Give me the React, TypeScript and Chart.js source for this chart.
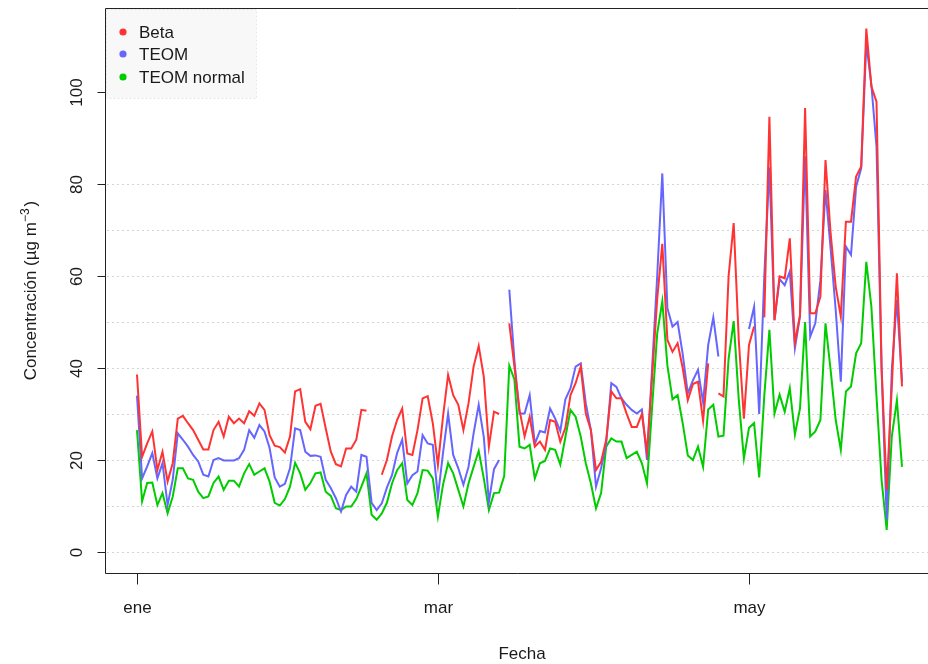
import React, { useEffect, useRef } from "react";
import { Chart, registerables } from "chart.js";

Chart.register(...registerables);

// Day index 0 = 1 January
const beta: (number | null)[] = [
  38.6, 20.7, 23.6, 26.2, 17.8, 21.8, 15.3, 19.3, 29, 29.6,
  28, 26.5, 24.4, 22.3, 22.3, 26.5, 28.3, 25.1, 29.4, 28,
  29, 28, 30.6, 29.6, 32.3, 30.9, 25.4, 23.1, 22.8, 21.6,
  25.1, 34.9, 35.4, 28.3, 26.7, 31.8, 32.2, 26.9, 21.8, 19.1,
  18.6, 22.5, 22.5, 24.4, 30.9, 30.7, null, null, 16.8, 20,
  25.1, 28.7, 31.2, 21.4, 21.1, 26.5, 33.4, 33.9, 28, 18.9,
  29.4, 38.5, 34.1, 32, 26.5, 32.3, 40.3, 44.8, 38.1, 22.9,
  30.5, 30, null, 49.7, 40.3, 30.9, 25.1, 29.4, 22.9, 24,
  22.2, 28.7, 28.3, 24, 27, 34.1, 36.7, 40.3, 30.1, 26.5,
  17.8, 19.6, 24.4, 34.9, 33.4, 33.4, 30.1, 27.2, 27.2, 30,
  21.8, 38, 55, 67, 46.1, 43.5, 45.4, 40, 33, 36.5,
  37, 28.5, 41, null, 34.5, 33.8, 60, 71.5, 46, 29,
  45, 49, null, 51, 94.6, 50.4, 59.9, 59.5, 68.2, 45.5,
  51.5, 96.5, 51.9, 51.9, 55.5, 85.2, 69.3, 57.7, 51.2, 71.8,
  71.8, 81.6, 83.8, 113.8, 101.2, 97.9, 40, 13.5, 35.9, 60.6,
  36,
];

const teom: (number | null)[] = [
  34, 16, 18.6, 21.5, 16, 19.3, 10.2, 15.7, 25.8, 24.4,
  22.9, 21.1, 19.7, 16.8, 16.4, 20, 20.4, 19.9, 19.9, 19.9,
  20.4, 22.2, 26.5, 24.8, 27.6, 26.2, 22.6, 16.2, 14.2, 14.8,
  18.2, 26.9, 26.5, 21.8, 20.9, 21, 20.7, 15.7, 13.9, 11.7,
  8.8, 12.4, 14.2, 13.1, 21.1, 20.7, 10.7, 9.1, 10.6, 14,
  16.7, 21.5, 24.4, 14.9, 16.7, 17.5, 25.4, 23.6, 23.3, 12,
  21.5, 30.1, 21.1, 18.2, 14.6, 18.5, 25.8, 32, 25, 10.9,
  18, 20, null, 57, 41.7, 30.1, 30.1, 34.1, 23.5, 26.3,
  26, 31.2, 29, 26.3, 33.2, 35.6, 40.3, 41, 32.3, 26.5,
  14.2, 18.2, 23.6, 36.7, 35.9, 33.4, 32, 30.9, 30.1, 31,
  20, 40, 60, 82.3, 53, 49, 50, 43, 34.5, 37.3,
  39.6, 32.5, 45, 51, 42.5, null, null, null, null, null,
  48.5, 53.3, 30, 60, 83.6, 50.4, 59.3, 58, 61, 44.3,
  51.2, 86, 46.8, 49.7, 59.1, 78.7, 66, 52.6, 37, 66.4,
  64.6, 79.4, 83.4, 110.6, 101.5, 88.1, 39.6, 7, 39.6, 54.8,
  37,
];

const teomNormal: (number | null)[] = [
  26.5, 11, 15, 15.1, 10.2, 12.8, 8.4, 12, 18.2, 18.2,
  16, 15.7, 13.1, 11.7, 12.1, 15, 16.4, 13.5, 15.5, 15.5,
  14.2, 17.1, 19.1, 16.8, 17.5, 18.2, 15.3, 10.7, 10.1, 11.5,
  14.2, 19.4, 17.1, 13.5, 15, 17.1, 17.3, 13.1, 12.2, 9.5,
  9.1, 9.9, 9.9, 11.5, 14.2, 17.1, 8.1, 7, 8.4, 10.7,
  14.9, 17.8, 19.3, 11.3, 10.2, 12.8, 17.8, 17.7, 16, 7.7,
  14.6, 19.3, 17.1, 13.5, 9.9, 14.9, 18.5, 22, 16, 9.1,
  12.8, 12.9, 16.5, 40.5, 37.5, 22.9, 22.5, 23.3, 16, 19.3,
  19.8, 22.5, 22.2, 19, 25, 30.9, 29.4, 25.1, 19.3, 14.9,
  9.5, 12.8, 22.9, 24.7, 24, 24, 20.4, 21.1, 21.8, 19.3,
  14.9, 31.5, 47.5, 54.5, 40.5, 33.2, 34.1, 28, 21, 20,
  22.9, 18.5, 31, 32, 25.1, 25.3, 42, 50.2, 33, 20.3,
  27, 28, 16.2, 34, 48.3, 30.1, 34.2, 30.5, 35.6, 25.5,
  31.2, 50, 25.1, 26.2, 28.7, 49.7, 39.6, 28.7, 22.2, 34.9,
  36, 43.2, 45.4, 63.1, 53.3, 33.8, 15.6, 4.8, 25.1, 33,
  18.5,
];

const seriesNames = ["Beta", "TEOM", "TEOM normal"];
const seriesColors = ["#ff3333", "#6666ff", "#00cc00"];

const xTickDays = [0, 59, 120];
const xTickLabels = ["ene", "mar", "may"];
const yTickValues = [0, 20, 40, 60, 80, 100];
const gridValues = [0, 10, 20, 30, 40, 50, 60, 70, 80];

const xTitle = "Fecha";
const yTitleMain = "Concentración (µg m";
const yTitleSup = "−3";
const yTitleEnd = ")";

const FONT = '"Liberation Sans", Arial, sans-serif';

const toPoints = (arr: (number | null)[]) => arr.map((v, i) => ({ x: i, y: v }));

const rPlugin = {
  id: "rStyle",
  beforeDatasetsDraw(chart: any) {
    const { ctx, chartArea, scales } = chart;
    const ys = scales.y;
    ctx.save();
    ctx.strokeStyle = "#d4d4d4";
    ctx.lineWidth = 1;
    ctx.setLineDash([2, 3]);
    for (const g of gridValues) {
      const py = Math.round(ys.getPixelForValue(g)) + 0.5;
      ctx.beginPath();
      ctx.moveTo(chartArea.left + 2, py);
      ctx.lineTo(chartArea.right, py);
      ctx.stroke();
    }
    ctx.restore();
  },
  afterDatasetsDraw(chart: any) {
    const { ctx, chartArea, scales } = chart;
    const xs = scales.x;
    const ys = scales.y;
    const L = chartArea.left + 0.5;
    const T = chartArea.top + 0.5;
    const B = chartArea.bottom + 0.5;
    const R = chartArea.right + 5;
    ctx.save();
    ctx.strokeStyle = "#222222";
    ctx.lineWidth = 1;
    ctx.setLineDash([]);
    ctx.beginPath();
    ctx.moveTo(R, T);
    ctx.lineTo(L, T);
    ctx.lineTo(L, B);
    ctx.lineTo(R, B);
    ctx.stroke();

    ctx.fillStyle = "#1a1a1a";
    ctx.font = `17px ${FONT}`;
    // y ticks
    for (const v of yTickValues) {
      const py = Math.round(ys.getPixelForValue(v)) + 0.5;
      ctx.beginPath();
      ctx.moveTo(L - 8, py);
      ctx.lineTo(L, py);
      ctx.stroke();
      ctx.save();
      ctx.translate(82, py);
      ctx.rotate(-Math.PI / 2);
      ctx.textAlign = "center";
      ctx.textBaseline = "alphabetic";
      ctx.fillText(String(v), 0, 0);
      ctx.restore();
    }
    // x ticks
    xTickDays.forEach((d, i) => {
      const px = Math.round(xs.getPixelForValue(d)) + 0.5;
      ctx.beginPath();
      ctx.moveTo(px, B);
      ctx.lineTo(px, B + 11);
      ctx.stroke();
      ctx.textAlign = "center";
      ctx.textBaseline = "alphabetic";
      ctx.fillText(xTickLabels[i], px, 613);
    });
    // x title
    ctx.textAlign = "center";
    ctx.fillText(xTitle, 522, 659);

    // y title with superscript
    ctx.save();
    ctx.translate(36, (chartArea.top + chartArea.bottom) / 2);
    ctx.rotate(-Math.PI / 2);
    ctx.textBaseline = "alphabetic";
    ctx.textAlign = "left";
    const mainFont = `17px ${FONT}`;
    const supFont = `12px ${FONT}`;
    ctx.font = mainFont;
    const w1 = ctx.measureText(yTitleMain).width;
    const w3 = ctx.measureText(yTitleEnd).width;
    ctx.font = supFont;
    const w2 = ctx.measureText(yTitleSup).width;
    const total = w1 + w2 + w3 + 2;
    let cx = -total / 2;
    ctx.font = mainFont;
    ctx.fillText(yTitleMain, cx, 0);
    cx += w1;
    ctx.font = supFont;
    ctx.fillText(yTitleSup, cx, -7);
    cx += w2 + 2;
    ctx.font = mainFont;
    ctx.fillText(yTitleEnd, cx, 0);
    ctx.restore();

    // legend
    ctx.fillStyle = "#f8f8f8";
    ctx.fillRect(106, 9, 150, 89);
    ctx.strokeStyle = "#e6e6e6";
    ctx.setLineDash([2, 2]);
    ctx.strokeRect(106.5, 9.5, 150, 89);
    ctx.setLineDash([]);
    const rows = [32, 54, 77];
    seriesNames.forEach((name, i) => {
      ctx.fillStyle = seriesColors[i];
      ctx.beginPath();
      ctx.arc(123, rows[i], 3.6, 0, Math.PI * 2);
      ctx.fill();
      ctx.fillStyle = "#1a1a1a";
      ctx.font = `17px ${FONT}`;
      ctx.textAlign = "left";
      ctx.textBaseline = "middle";
      ctx.fillText(name, 139, rows[i] + 1);
    });
    ctx.restore();
  },
};

export default function App() {
  const canvasRef = useRef<HTMLCanvasElement | null>(null);

  useEffect(() => {
    document.body.style.margin = "0";
    const canvas = canvasRef.current;
    if (!canvas) return;
    const pxPerDay = 5.1;
    const day0X = 137;
    const left = 105;
    const right = 928;
    const top = 8;
    const bottom = 573;
    const zeroY = 552;
    const pxPerUnit = 4.6;
    const chart = new Chart(canvas, {
      type: "line",
      data: {
        datasets: [beta, teom, teomNormal].map((arr, i) => ({
          label: seriesNames[i],
          data: toPoints(arr),
          borderColor: seriesColors[i],
          backgroundColor: seriesColors[i],
          borderWidth: 2,
          pointRadius: 0,
          tension: 0,
          spanGaps: false,
          fill: false,
        })),
      },
      options: {
        responsive: false,
        animation: false,
        devicePixelRatio: 1,
        layout: { padding: { left, right: 928 - right, top, bottom: 664 - bottom } },
        plugins: { legend: { display: false }, tooltip: { enabled: false }, title: { display: false } },
        events: [],
        scales: {
          x: {
            type: "linear",
            display: false,
            min: (left - day0X) / pxPerDay,
            max: (right - day0X) / pxPerDay,
          },
          y: {
            type: "linear",
            display: false,
            min: (zeroY - bottom) / pxPerUnit,
            max: (zeroY - top) / pxPerUnit,
          },
        },
      },
      plugins: [rPlugin],
    });
    return () => chart.destroy();
  }, []);

  return (
    <div style={{ position: "fixed", left: 0, top: 0, width: 928, height: 664, overflow: "hidden", background: "#fff" }}>
      <canvas ref={canvasRef} width={928} height={664} style={{ width: 928, height: 664, display: "block" }} />
    </div>
  );
}
